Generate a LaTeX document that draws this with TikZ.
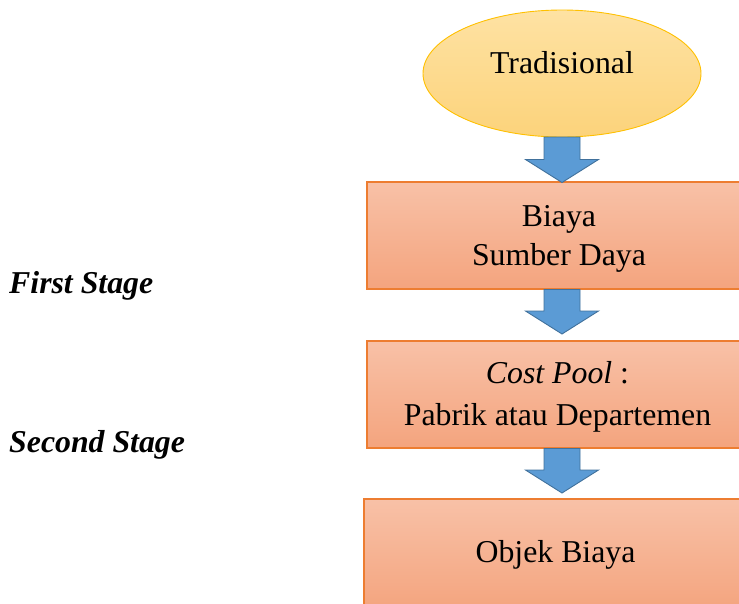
\documentclass[tikz,border=0pt]{standalone}
\usepackage{fontspec}
\setmainfont{Liberation Serif}
\usetikzlibrary{calc,shapes.geometric}

\definecolor{ellfilltop}{HTML}{FEE2A3}
\definecolor{ellfillbot}{HTML}{FCD37B}
\definecolor{ellline}{HTML}{FFC000}
\definecolor{boxtop}{HTML}{F8C1A7}
\definecolor{boxbot}{HTML}{F4A47E}
\definecolor{boxline}{HTML}{ED7D31}
\definecolor{arrfill}{HTML}{5B9BD5}
\definecolor{arrline}{HTML}{41719C}

\tikzset{
  startell/.style={ellipse, draw=ellline, line width=0.9pt, top color=ellfilltop,
    bottom color=ellfillbot, inner sep=0pt, minimum width=278pt, minimum height=127pt},
  stagebox/.style={rectangle, draw=boxline, line width=1.2pt, top color=boxtop,
    bottom color=boxbot, inner sep=0pt, minimum width=384pt, minimum height=107pt},
  boxtext/.style={anchor=base, align=center, inner sep=0pt,
    font=\fontsize{31.8pt}{39pt}\selectfont},
  sidetext/.style={anchor=base west, inner sep=0pt,
    font=\fontsize{31.8pt}{40pt}\selectfont\bfseries\itshape},
  blockarrow/.style={draw=arrline, line width=0.9pt, fill=arrfill, line join=miter}
}

% downward block arrow between two named points (shaft 36 wide, head 73 wide)
\newcommand\downblock[2]{%
  \path[blockarrow] ($(#1)+(-18,0)$) -- ($(#1)+(18,0)$) -- ($(#2)+(18,-23)$)
    -- ($(#2)+(36.5,-23)$) -- (#2) -- ($(#2)+(-36.5,-23)$) -- ($(#2)+(-18,-23)$) -- cycle;}

\begin{document}
\begin{tikzpicture}[x=1pt,y=-1pt]
  \useasboundingbox (0,0) rectangle (739,603);
  \clip (0,0) rectangle (739,603);

  % start ellipse
  \node[startell] (trad) at (562,73.5) {};
  \node[boxtext] (tradtxt) at (562,73) {Tradisional};

  % stage boxes (run past the right edge); text anchored on its last baseline
  \node[stagebox] (res) at (559,235.5) {};
  \node[boxtext] (restxt) at (559,265) {Biaya\\Sumber Daya};

  \node[stagebox] (pool) at (559,394.5) {};
  \node[boxtext] (pooltxt) at (557.5,425) {\textit{Cost Pool} :\\[3pt]Pabrik atau Departemen};

  \node[stagebox, minimum height=112pt] (obj) at (556,555) {};
  \node[boxtext] (objtxt) at (555.5,562) {Objek Biaya};

  % connectors
  \coordinate (a1s) at (562,137);  \coordinate (a1e) at (562,182.5);
  \coordinate (a2s) at (562,289.5);\coordinate (a2e) at (562,334);
  \coordinate (a3s) at (562,448.5);\coordinate (a3e) at (562,493);
  \downblock{a1s}{a1e}
  \downblock{a2s}{a2e}
  \downblock{a3s}{a3e}

  % stage labels
  \node[sidetext] (first) at (9,293) {First Stage};
  \node[sidetext] (second) at (9,452) {Second Stage};
\end{tikzpicture}
\end{document}
